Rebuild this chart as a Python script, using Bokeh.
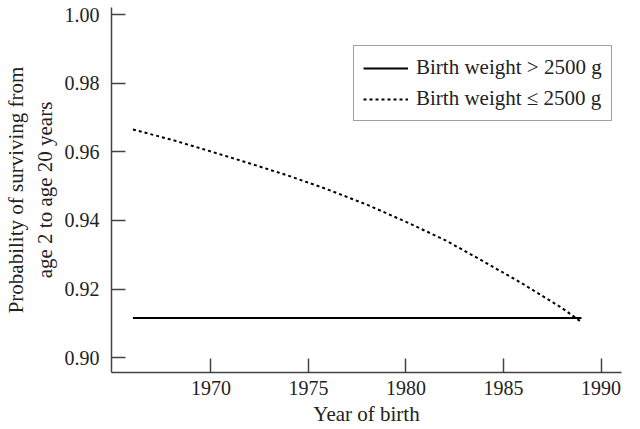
from bokeh.plotting import figure
from bokeh.models import Range1d, Legend, LegendItem, FixedTicker
from bokeh.embed import file_html
from bokeh.resources import INLINE

# Data
years_low = [1966, 1968, 1970, 1972, 1974, 1976, 1978, 1980, 1982, 1984, 1986, 1988, 1989]
surv_low = [0.9665, 0.9635, 0.9601, 0.9566, 0.9530, 0.9490, 0.9446, 0.9396, 0.9343, 0.9280, 0.9215, 0.9145, 0.9104]
years_high = [1966, 1989]
surv_high = [0.9116, 0.9116]

x_ticks = [1970, 1975, 1980, 1985, 1990]
y_ticks = [0.90, 0.92, 0.94, 0.96, 0.98, 1.00]

x_title = "Year of birth"
y_title = "Probability of surviving from\nage 2 to age 20 years"

FONT = "Liberation Serif"
TXT = "#222222"

p = figure(width=636, height=429, output_backend="svg", toolbar_location=None,
           x_range=Range1d(1964.9, 1991.05), y_range=Range1d(0.89572, 1.00204),
           min_border_left=111, min_border_right=15, min_border_top=7, min_border_bottom=57)
p.outline_line_color = None
p.xgrid.visible = False
p.ygrid.visible = False
p.background_fill_color = "white"
p.border_fill_color = "white"

r_high = p.line(years_high, surv_high, line_color="black", line_width=2)
r_low = p.line(years_low, surv_low, line_color="black", line_width=2, line_dash="3 3")

for ax in (p.xaxis[0], p.yaxis[0]):
    ax.axis_line_color = "#444444"
    ax.axis_line_width = 1.5
    ax.major_tick_line_color = "#444444"
    ax.major_tick_line_width = 1.5
    ax.major_tick_in = 14
    ax.major_tick_out = 0
    ax.minor_tick_line_color = None
    ax.major_label_text_font = FONT
    ax.major_label_text_font_size = "20px"
    ax.major_label_text_color = TXT
    ax.axis_label_text_font = FONT
    ax.axis_label_text_font_style = "normal"
    ax.axis_label_text_color = TXT

p.xaxis.ticker = FixedTicker(ticks=x_ticks)
p.yaxis.ticker = FixedTicker(ticks=y_ticks)
p.yaxis.major_label_overrides = {v: f"{v:.2f}" for v in y_ticks}
p.xaxis.major_label_standoff = 8
p.yaxis.major_label_standoff = 12
p.xaxis.axis_label = x_title
p.xaxis.axis_label_text_font_size = "21px"
p.xaxis.axis_label_standoff = 4
p.yaxis.axis_label = y_title
p.yaxis.axis_label_text_font_size = "21px"
p.yaxis.axis_label_standoff = 5

legend = Legend(items=[
    LegendItem(label="Birth weight > 2500 g", renderers=[r_high]),
    LegendItem(label="Birth weight \u2264 2500 g", renderers=[r_low]),
], location=(242, 251))
legend.label_text_font = FONT
legend.label_text_font_size = "21px"
legend.label_text_color = TXT
legend.glyph_width = 45
legend.glyph_height = 22
legend.label_height = 22
legend.spacing = 6
legend.padding = 9
legend.label_standoff = 8
legend.border_line_color = "#444444"
legend.border_line_width = 1.5
legend.background_fill_alpha = 1
legend.margin = 0
p.add_layout(legend, "center")

open("out.html", "w").write(file_html(p, INLINE))
